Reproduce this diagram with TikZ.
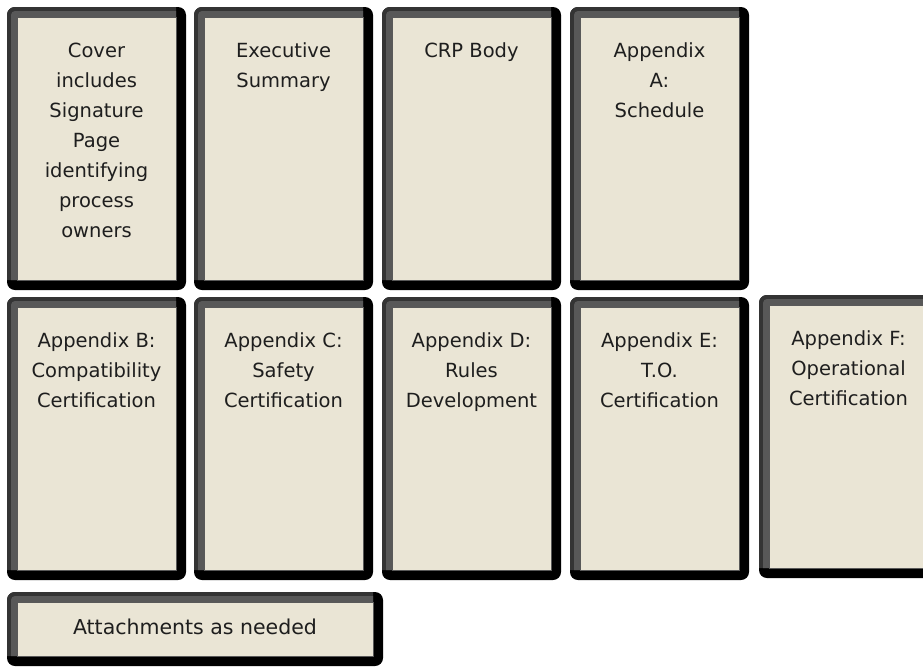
\documentclass[tikz,border=0pt]{standalone}
\usepackage{fontspec}
\setmainfont{DejaVu Sans}
\definecolor{pbeige}{RGB}{234,229,213}
\definecolor{pgraydark}{RGB}{52,52,52}
\definecolor{pgraylight}{RGB}{88,88,88}
\definecolor{ptext}{RGB}{30,30,30}
\tikzset{
  outerblack/.style={fill=black, rounded corners=8pt},
  graydark/.style={fill=pgraydark},
  graylight/.style={fill=pgraylight},
  innerpanel/.style={fill=pbeige, draw=black!65, line width=0.5pt, inner sep=0pt, outer sep=0pt},
  paneltext/.style={text=ptext, font=\fontsize{19.5}{30}\selectfont, align=center, inner sep=0pt, anchor=north},
}
% name, x0, y0, x1, y1
\newcommand\drawpanel[5]{%
  \fill[outerblack] (#2,#3) rectangle (#4,#5);
  \fill[graydark] (#2,#5-10) -- (#2,#3+8) arc[start angle=180,end angle=270,radius=8] -- (#4-10,#3) -- (#4-10,#5-10) -- cycle;
  \fill[graylight] (#2+4,#5-10) -- (#2+4,#3+8) arc[start angle=180,end angle=270,radius=4] -- (#4-10,#3+4) -- (#4-10,#5-10) -- cycle;
  \node[innerpanel, minimum width=#4-#2-20, minimum height=#5-#3-20, anchor=north west] (#1) at (#2+10,#3+10) {};
}
\begin{document}
\begin{tikzpicture}[x=1pt,y=-1pt]
\useasboundingbox (0,0) rectangle (923,667);
\clip (0,0) rectangle (923,667);
% row 1
\drawpanel{b1}{7}{7}{186}{290}
\drawpanel{b2}{194}{7}{373}{290}
\drawpanel{b3}{382}{7}{561}{290}
\drawpanel{b4}{570}{7}{749}{290}
% row 2
\drawpanel{b5}{7}{297}{186}{580}
\drawpanel{b6}{194}{297}{373}{580}
\drawpanel{b7}{382}{297}{561}{580}
\drawpanel{b8}{570}{297}{749}{580}
\drawpanel{b9}{759}{295}{938}{578}
% row 3
\drawpanel{b10}{7}{592}{383}{666}
% texts
\node[paneltext] (t1) at ([yshift=-19pt]b1.north) {\strut Cover\\includes\\Signature\\Page\\identifying\\process\\owners};
\node[paneltext] (t2) at ([yshift=-19pt]b2.north) {\strut Executive\\Summary};
\node[paneltext] (t3) at ([yshift=-19pt]b3.north) {\strut CRP Body};
\node[paneltext] (t4) at ([yshift=-19pt]b4.north) {\strut Appendix\\A:\\Schedule};
\node[paneltext] (t5) at ([yshift=-19pt]b5.north) {\strut Appendix B:\\Compatibility\\Certification};
\node[paneltext] (t6) at ([yshift=-19pt]b6.north) {\strut Appendix C:\\Safety\\Certification};
\node[paneltext] (t7) at ([yshift=-19pt]b7.north) {\strut Appendix D:\\Rules\\Development};
\node[paneltext] (t8) at ([yshift=-19pt]b8.north) {\strut Appendix E:\\T.O.\\Certification};
\node[paneltext] (t9) at ([yshift=-19pt]b9.north) {\strut Appendix F:\\Operational\\Certification};
\node[text=ptext, font=\fontsize{20.5}{30}\selectfont, inner sep=0pt] (t10) at ([yshift=2pt]b10.center) {Attachments as needed};
\end{tikzpicture}
\end{document}
